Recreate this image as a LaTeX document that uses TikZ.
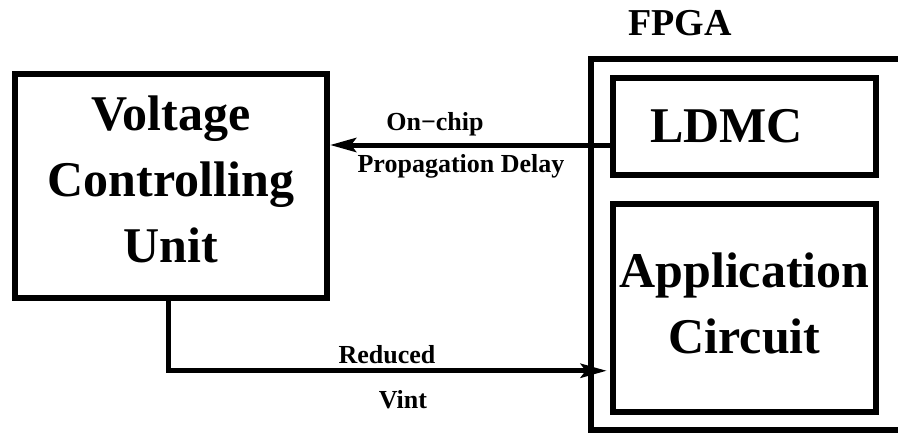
\documentclass[tikz,border=0pt]{standalone}
\usepackage{fontspec}
\setmainfont{Liberation Serif}
\usetikzlibrary{positioning, arrows.meta}
\tikzset{block/.style={rectangle, draw, line width=6pt, align=center, font=\fontsize{50}{66}\selectfont\bfseries},
	sig/.style={draw, line width=5pt, -{Stealth[length=26pt, width=14pt, inset=5pt]}},
	siglabel/.style={anchor=base, inner sep=0pt, font=\fontsize{26}{30}\selectfont\bfseries},}

\begin{document}
\begin{tikzpicture}[x=1pt, y=-1pt]
				\useasboundingbox (0,0) rectangle (898,434);
				% Controller
				\node[block, minimum width=312pt, minimum height=223.5pt, text depth=14pt] (vcu) at (171,185.75) {Voltage\\Controlling\\Unit};
				% FPGA and its parts
				\node[rectangle, draw, line width=6pt, minimum width=340pt, minimum height=371pt] (fpga) at (761,244.5) {};
				\node[anchor=base, inner sep=0pt, font=\fontsize{38}{44}\selectfont\bfseries] (fpgalabel) at (680,35) {FPGA};
				\node[block, minimum width=263.5pt, minimum height=97.5pt] (ldmc) at (744.5,126.25) {LDMC\hspace*{36pt}};
				\node[block, minimum width=263.5pt, minimum height=208.5pt, text depth=10pt] [below = 22.5pt of ldmc] (app) {Application\\Circuit};
				% Signals
				\coordinate (chip) at ([yshift=-18.75pt]ldmc.west);
				\coordinate (vint) at ([yshift=-63pt]app.west);
				\draw[sig] (chip) -- (chip -| vcu.east);
				\draw[sig, shorten >=3pt] ([xshift=-3pt]vcu.south) |- (vint);
				\node[siglabel] (onchip) at (435,130) {On−chip};
				\node[siglabel] (propdelay) at (461,172) {Propagation Delay};
				\node[siglabel] (reduced) at (387,363) {Reduced};
				\node[siglabel] (vintlabel) at (403,408) {Vint};
			\end{tikzpicture}
\end{document}
